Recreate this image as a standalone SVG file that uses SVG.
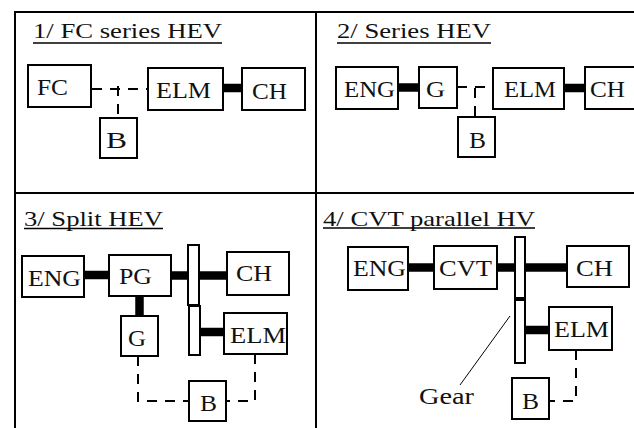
<svg xmlns="http://www.w3.org/2000/svg" width="634" height="428" viewBox="0 0 634 428">
<style>
.box{fill:#fff;stroke:#000;stroke-width:2}
.gear{fill:#fff;stroke:#000;stroke-width:2}
.frame{stroke:#000;stroke-width:2;fill:none}
.thick{stroke:#000;stroke-width:8.5;fill:none}
.dash{stroke:#000;stroke-width:2;fill:none;stroke-dasharray:10 8}
.thin{stroke:#000;stroke-width:1;fill:none}
.ul{stroke:#000;stroke-width:1.5}
</style>
<rect width="634" height="428" fill="#fff"/>
<g id="frame">
<line class="frame" x1="14" y1="12" x2="634" y2="12"/>
<line class="frame" x1="15" y1="11" x2="15" y2="428"/>
<line class="frame" x1="316" y1="11" x2="316" y2="428"/>
<line class="frame" x1="14" y1="193" x2="634" y2="193"/>
</g>
<g id="titles" font-family="Liberation Serif" font-size="22" fill="#111">
<text x="33" y="38" textLength="189" lengthAdjust="spacingAndGlyphs">1/ FC series HEV</text>
<line class="ul" x1="33" y1="43" x2="222" y2="43"/>
<text x="337" y="38" textLength="154" lengthAdjust="spacingAndGlyphs">2/ Series HEV</text>
<line class="ul" x1="337" y1="43" x2="491" y2="43"/>
<text x="24" y="226" textLength="139" lengthAdjust="spacingAndGlyphs">3/ Split HEV</text>
<line class="ul" x1="24" y1="228.5" x2="163" y2="228.5"/>
<text x="323" y="226" textLength="212" lengthAdjust="spacingAndGlyphs">4/ CVT parallel HV</text>
<line class="ul" x1="323" y1="228" x2="535" y2="228"/>
</g>
<g id="connectors">
<line class="dash" x1="92" y1="89" x2="148" y2="89" stroke-dasharray="7 6 8 4 2 4 8 4 12"/>
<line class="dash" x1="118" y1="86" x2="118" y2="118" stroke-dasharray="4 21 7"/>
<line class="thick" x1="223" y1="88" x2="242" y2="88"/>
<line class="thick" x1="398" y1="87.5" x2="419" y2="87.5"/>
<line class="dash" x1="457" y1="87" x2="493" y2="87" stroke-dasharray="10 15 11"/>
<line class="dash" x1="475" y1="88" x2="475" y2="117" stroke-dasharray="10 8 11"/>
<line class="thick" x1="564" y1="88" x2="585" y2="88"/>
<line class="thick" x1="84" y1="275" x2="109" y2="275"/>
<line class="thick" x1="171" y1="275.5" x2="188" y2="275.5"/>
<line class="thick" x1="199" y1="275.5" x2="227" y2="275.5"/>
<line class="thick" x1="139.5" y1="296" x2="139.5" y2="316"/>
<line class="thick" x1="200" y1="332" x2="224" y2="332"/>
<polyline class="dash" points="138,356 138,401 189,401" stroke-dasharray="6 6 13 8 12 8"/>
<polyline class="dash" points="255,354 255,401 226,401" stroke-dasharray="6 10 12 8 12 8"/>
<line class="thick" x1="408" y1="267.5" x2="434" y2="267.5"/>
<line class="thick" x1="497" y1="267.5" x2="515" y2="267.5"/>
<line class="thick" x1="525" y1="267.5" x2="567" y2="267.5"/>
<line class="thick" x1="525" y1="330" x2="549" y2="330"/>
<polyline class="dash" points="576,350 576,401 549,401" stroke-dasharray="5 13 12 7 14 16 8"/>
<line class="thin" x1="510" y1="316" x2="460" y2="385"/>
</g>
<g font-family="Liberation Serif" font-size="24" fill="#111">
<g id="p1-FC"><rect class="box" x="28" y="65" width="63" height="42"/><text x="37" y="95" textLength="31" lengthAdjust="spacingAndGlyphs">FC</text></g>
<g id="p1-ELM"><rect class="box" x="148" y="68" width="75" height="42"/><text x="156" y="98" textLength="55" lengthAdjust="spacingAndGlyphs">ELM</text></g>
<g id="p1-CH"><rect class="box" x="242" y="68" width="63" height="42"/><text x="252" y="99" textLength="35" lengthAdjust="spacingAndGlyphs">CH</text></g>
<g id="p1-B"><rect class="box" x="100" y="118" width="37" height="40"/><text x="106" y="148" textLength="21" lengthAdjust="spacingAndGlyphs">B</text></g>

<g id="p2-ENG"><rect class="box" x="336" y="67" width="62" height="42"/><text x="344" y="97" textLength="51" lengthAdjust="spacingAndGlyphs">ENG</text></g>
<g id="p2-G"><rect class="box" x="419" y="67" width="38" height="41"/><text x="426" y="97" textLength="19" lengthAdjust="spacingAndGlyphs">G</text></g>
<g id="p2-ELM"><rect class="box" x="493" y="68" width="71" height="41"/><text x="504" y="97" textLength="52" lengthAdjust="spacingAndGlyphs">ELM</text></g>
<g id="p2-CH"><rect class="box" x="585" y="67" width="52" height="42"/><text x="590" y="97" textLength="35" lengthAdjust="spacingAndGlyphs">CH</text></g>
<g id="p2-B"><rect class="box" x="458" y="117" width="37" height="40"/><text x="469" y="148" textLength="17" lengthAdjust="spacingAndGlyphs">B</text></g>

<g id="p3-ENG"><rect class="box" x="22" y="256" width="62" height="41"/><text x="28" y="286" textLength="53" lengthAdjust="spacingAndGlyphs">ENG</text></g>
<g id="p3-PG"><rect class="box" x="109" y="255" width="62" height="41"/><text x="119" y="284" textLength="33" lengthAdjust="spacingAndGlyphs">PG</text></g>
<g id="p3-gear1"><rect class="gear" x="188" y="245" width="11" height="60"/></g>
<g id="p3-gear2"><rect class="gear" x="189" y="306" width="11" height="49"/></g>
<g id="p3-CH"><rect class="box" x="227" y="252" width="62" height="43"/><text x="236" y="281" textLength="36" lengthAdjust="spacingAndGlyphs">CH</text></g>
<g id="p3-ELM"><rect class="box" x="224" y="313" width="63" height="41"/><text x="230" y="343" textLength="56" lengthAdjust="spacingAndGlyphs">ELM</text></g>
<g id="p3-G"><rect class="box" x="121" y="316" width="37" height="40"/><text x="128" y="346" textLength="18" lengthAdjust="spacingAndGlyphs">G</text></g>
<g id="p3-B"><rect class="box" x="189" y="381" width="37" height="40"/><text x="200" y="411" textLength="17" lengthAdjust="spacingAndGlyphs">B</text></g>

<g id="p4-ENG"><rect class="box" x="348" y="247" width="60" height="43"/><text x="353" y="276" textLength="53" lengthAdjust="spacingAndGlyphs">ENG</text></g>
<g id="p4-CVT"><rect class="box" x="434" y="246" width="63" height="43"/><text x="439" y="276" textLength="53" lengthAdjust="spacingAndGlyphs">CVT</text></g>
<g id="p4-gear1"><rect class="gear" x="515" y="237" width="10" height="61"/></g>
<g id="p4-gear2"><rect class="gear" x="515" y="300" width="10" height="63"/></g>
<g id="p4-CH"><rect class="box" x="567" y="246" width="62" height="41"/><text x="576" y="276" textLength="37" lengthAdjust="spacingAndGlyphs">CH</text></g>
<g id="p4-ELM"><rect class="box" x="549" y="307" width="63" height="43"/><text x="554" y="337" textLength="55" lengthAdjust="spacingAndGlyphs">ELM</text></g>
<g id="p4-B"><rect class="box" x="512" y="378" width="37" height="41"/><text x="522" y="409" textLength="17" lengthAdjust="spacingAndGlyphs">B</text></g>
<g id="p4-gear-label"><text x="419" y="404" textLength="55" lengthAdjust="spacingAndGlyphs">Gear</text></g>
</g>
</svg>
